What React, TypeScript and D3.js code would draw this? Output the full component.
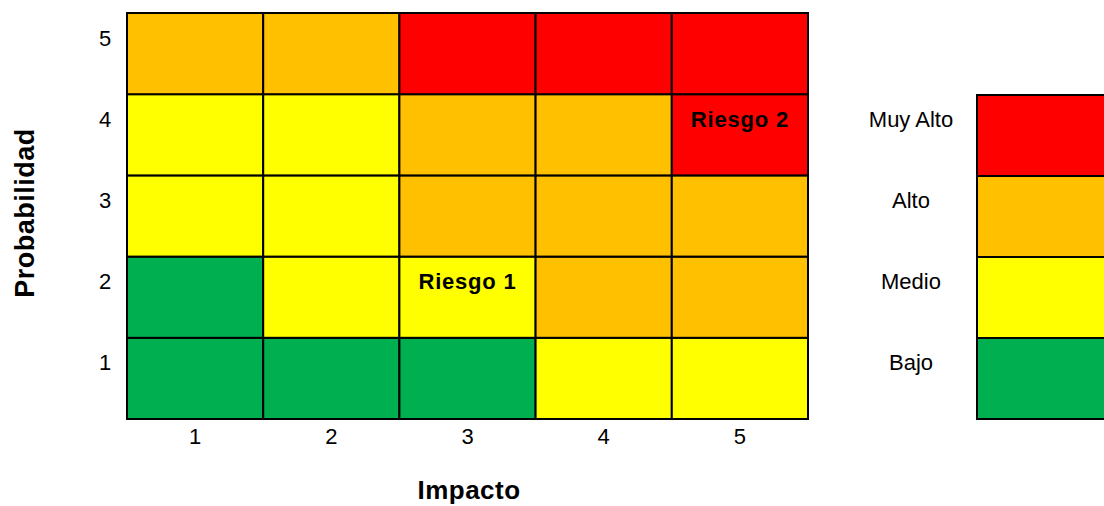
import React from "react";
import * as d3 from "d3";

const impacto = [1, 2, 3, 4, 5];
const probabilidad = [1, 2, 3, 4, 5];
const levels = ["Bajo", "Medio", "Alto", "Muy Alto"];
const levelColors = ["#00B050", "#FFFF00", "#FFC000", "#FF0000"];
// level index per cell, rows from probabilidad 1 (bottom) to 5 (top)
const matrix = [
  [0, 0, 0, 1, 1],
  [0, 1, 1, 2, 2],
  [1, 1, 2, 2, 2],
  [1, 1, 2, 2, 3],
  [2, 2, 3, 3, 3],
];
const risks = [
  { name: "Riesgo 1", impacto: 3, prob: 2 },
  { name: "Riesgo 2", impacto: 5, prob: 4 },
];

export default function App() {
  const W = 1104, H = 506;
  const left = 127, right = 808, top = 13, bottom = 419;
  const x = d3.scaleBand<number>().domain(impacto).range([left, right]).padding(0);
  const y = d3.scaleBand<number>().domain([...probabilidad].reverse()).range([top, bottom]).padding(0);
  const bw = x.bandwidth(), bh = y.bandwidth();
  const legY = d3.scaleBand<number>().domain([3, 2, 1, 0]).range([95, 419]);
  const legX = 977;
  const font = "Liberation Sans, Arial, sans-serif";
  const labelOff = 25;

  return (
    <svg width={W} height={H} style={{ position: "absolute", left: 0, top: 0 }} fontFamily={font}>
      {matrix.map((row, ri) =>
        row.map((lv, ci) => (
          <rect key={`${ri}-${ci}`} x={x(impacto[ci])!} y={y(probabilidad[ri])!} width={bw} height={bh}
            fill={levelColors[lv]} stroke="#000" strokeWidth={2} />
        ))
      )}
      {probabilidad.map((p) => (
        <text key={p} x={105} y={y(p)! + labelOff} fontSize={22} textAnchor="middle" dominantBaseline="central">{p}</text>
      ))}
      {impacto.map((i) => (
        <text key={i} x={x(i)! + bw / 2} y={436} fontSize={22} textAnchor="middle" dominantBaseline="central">{i}</text>
      ))}
      {risks.map((r) => (
        <text key={r.name} x={x(r.impacto)! + bw / 2} y={y(r.prob)! + labelOff} fontSize={22} fontWeight="bold"
          letterSpacing={0.8} textAnchor="middle" dominantBaseline="central">{r.name}</text>
      ))}
      <text x={469} y={490} fontSize={26} fontWeight="bold" letterSpacing={0.5} textAnchor="middle" dominantBaseline="central">Impacto</text>
      <text transform={`translate(25,213) rotate(-90)`} fontSize={27} fontWeight="bold" letterSpacing={0.5} textAnchor="middle" dominantBaseline="central">Probabilidad</text>
      {levels.map((l, i) => (
        <g key={l}>
          <rect x={legX} y={legY(i)!} width={140} height={legY.bandwidth()} fill={levelColors[i]} stroke="#000" strokeWidth={2} />
          <text x={911} y={legY(i)! + labelOff - 1} fontSize={22} textAnchor="middle" dominantBaseline="central">{l}</text>
        </g>
      ))}
    </svg>
  );
}
